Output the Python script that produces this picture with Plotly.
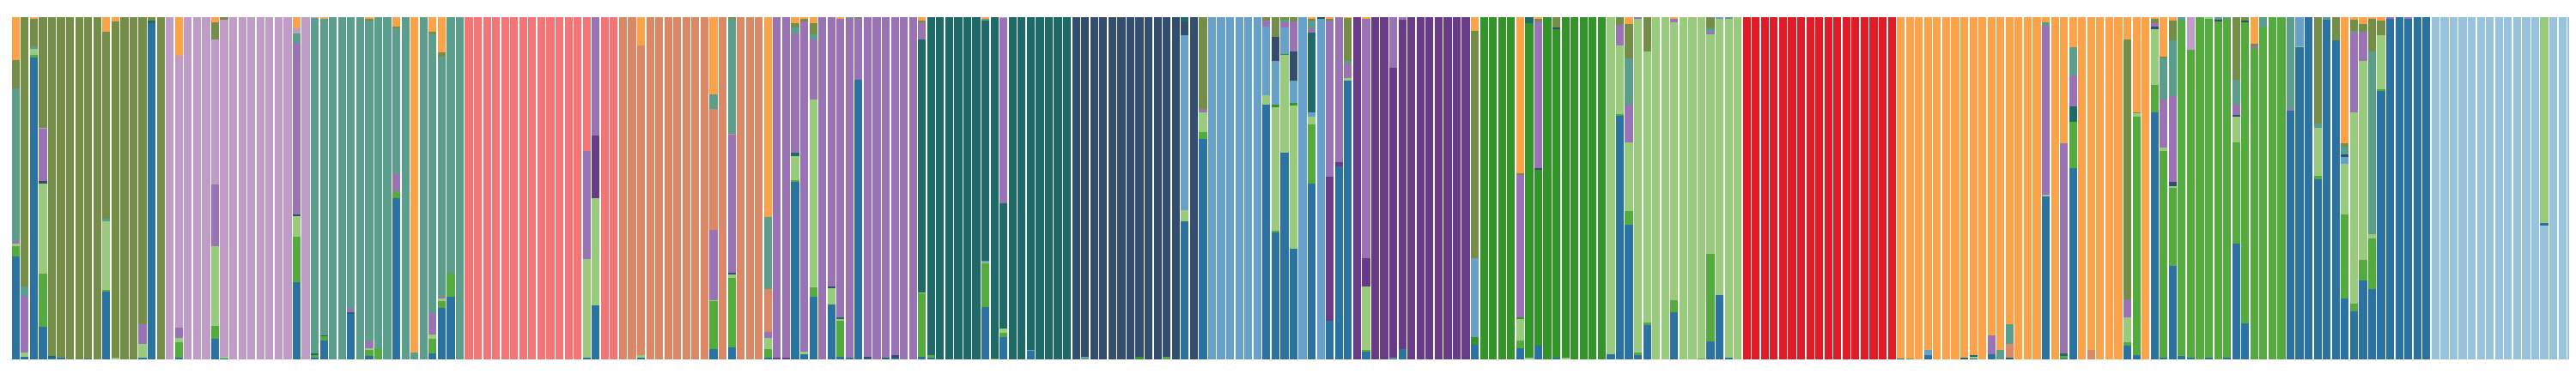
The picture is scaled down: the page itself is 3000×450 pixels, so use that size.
import plotly.graph_objects as go

# cluster order (bottom -> top) and colours
clusters = ["PB", "SB", "MG", "LG", "FG", "LS", "NV", "DT", "DP", "PU", "SA", "TC", "RD", "SG", "LI", "OL", "OR"]
colors = {
    "PB": "#97c3dc", "SB": "#2a72a0", "MG": "#52ab3c", "LG": "#98cc7c", "FG": "#339429",
    "LS": "#66a1ca", "NV": "#324d6d", "DT": "#1e6a69", "DP": "#673b87", "PU": "#9a73b5",
    "SA": "#f47575", "TC": "#da8866", "RD": "#de1b27", "SG": "#5b9e8c", "LI": "#bf9dc6",
    "OL": "#748d47", "OR": "#fba349",
}

pop1 = [
    {"OR": .125, "OL": .083, "SG": .444, "PU": .008, "LG": .009, "MG": .028, "SB": .301},
    {"OL": .787, "SG": .028, "PU": .165, "LG": .012, "SB": .008},
    {"OR": .003, "OL": .082, "SG": .008, "LG": .018, "MG": .008, "SB": .881},
    {"OL": .323, "LI": .002, "PU": .153, "NV": .008, "LG": .263, "MG": .155, "SB": .096},
    {"OL": .99, "DT": .004, "SB": .006},
    {"OL": .995, "SB": .005},
    {"OL": 1}, {"OL": 1},
    {"OL": .997, "SB": .003},
    {"OL": 1},
    {"OR": .042, "OL": .547, "SG": .007, "LG": .202, "MG": .003, "SB": .2},
    {"OR": .013, "OL": .982, "LG": .005},
    {"OL": 1}, {"OL": 1},
    {"OL": .896, "PU": .06, "LG": .038, "SB": .006},
    {"OL": .01, "DT": .007, "SB": .983},
    {"OL": 1},
]
pop2 = [
    {"LI": 1},
    {"OR": .113, "LI": .794, "PU": .03, "LG": .013, "MG": .046, "SB": .004},
    {"LI": 1}, {"LI": 1}, {"LI": 1},
    {"OR": .014, "OL": .051, "LI": .424, "PU": .18, "LG": .234, "MG": .038, "SB": .06},
    {"OL": .008, "LI": .985, "LG": .004, "SB": .003},
    {"LI": 1}, {"LI": 1}, {"LI": 1}, {"LI": 1}, {"LI": 1}, {"LI": 1}, {"LI": 1},
    {"OR": .033, "LI": .014, "SG": .029, "PU": .501, "NV": .003, "LG": .062, "MG": .131, "SB": .226},
    {"LI": 1},
]
pop3 = [
    {"LI": .002, "SG": .98, "MG": .01, "DT": .004, "SB": .004},
    {"OR": .004, "SG": .925, "DT": .003, "MG": .014, "SB": .054},
    {"SG": 1}, {"SG": 1},
    {"SG": .849, "PU": .013, "DT": .004, "SB": .134},
    {"SG": .997, "MG": .003},
    {"OR": .004, "OL": .004, "SG": .94, "PU": .019, "LG": .004, "MG": .018, "SB": .011},
    {"SG": .967, "MG": .033},
    {"SG": 1},
    {"OR": .027, "OL": .005, "SG": .424, "PU": .054, "MG": .018, "SB": .472},
    {"SG": 1},
    {"OR": .979, "SG": .021},
    {"SG": 1},
    {"OR": .042, "OL": .008, "SG": .815, "PU": .063, "LG": .011, "MG": .043, "SB": .018},
    {"OR": .103, "OL": .012, "SG": .701, "PU": .007, "LG": .007, "MG": .02, "SB": .15},
    {"SG": .75, "MG": .066, "SB": .184},
    {"SG": 1},
]
pop4 = [
    {"SA": 1}, {"SA": 1}, {"SA": 1}, {"SA": 1}, {"SA": 1}, {"SA": 1}, {"SA": 1},
    {"SA": 1}, {"SA": 1}, {"SA": 1}, {"SA": 1}, {"SA": 1}, {"SA": 1},
    {"SA": .391, "PU": .317, "LG": .288, "SB": .004},
    {"PU": .345, "DP": .184, "LG": .313, "SB": .158},
    {"SA": 1}, {"SA": 1},
]
pop5 = [
    {"TC": 1}, {"TC": 1},
    {"OR": .082, "TC": .906, "LG": .008, "SB": .004},
    {"TC": 1}, {"TC": 1}, {"TC": 1}, {"TC": 1}, {"TC": 1}, {"TC": 1}, {"TC": 1},
    {"OR": .226, "SG": .042, "TC": .353, "PU": .205, "LG": .002, "MG": .142, "SB": .03},
    {"TC": 1},
    {"OL": .004, "SG": .336, "TC": .003, "PU": .404, "NV": .003, "LG": .012, "MG": .203, "SB": .035},
    {"TC": 1}, {"TC": 1}, {"TC": 1},
    {"OR": .585, "SG": .209, "TC": .125, "PU": .018, "LG": .034, "MG": .025, "SB": .004},
]
pop6 = [
    {"PU": .995, "DP": .005},
    {"PU": .995, "DP": .005},
    {"OR": .017, "OL": .013, "SG": .018, "PU": .348, "DT": .01, "LG": .071, "MG": .005, "SB": .518},
    {"OR": .004, "OL": .008, "PU": .965, "LG": .007, "SB": .016},
    {"OR": .017, "OL": .033, "SG": .014, "PU": .176, "LG": .549, "MG": .028, "SB": .183},
    {"PU": 1},
    {"PU": .787, "NV": .003, "LG": .05, "SB": .16},
    {"OR": .003, "PU": .874, "DT": .005, "LG": .005, "MG": .105, "SB": .008},
    {"SG": .002, "PU": .992, "SB": .006},
    {"OL": .002, "PU": .18, "SB": .818},
    {"PU": .992, "NV": .005, "SB": .003},
    {"PU": 1},
    {"PU": .995, "DT": .005},
    {"PU": .988, "NV": .008, "SB": .004},
    {"PU": 1}, {"PU": 1},
]
pop7 = [
    {"OR": .011, "OL": .003, "PU": .051, "DT": .739, "LG": .003, "MG": .185, "SB": .008},
    {"DT": .987, "MG": .007, "SB": .006},
    {"DT": 1}, {"DT": 1}, {"DT": 1}, {"DT": 1}, {"DT": 1},
    {"OR": .005, "SG": .003, "LS": .004, "DT": .704, "LG": .003, "MG": .128, "SB": .154},
    {"DT": .997, "MG": .003},
    {"LI": .002, "PU": .542, "DT": .367, "LG": .013, "MG": .013, "SB": .064},
    {"DT": 1}, {"DT": 1},
    {"DT": .972, "LS": .001, "SB": .027},
    {"DT": 1}, {"DT": 1}, {"DT": 1}, {"DT": 1},
]
pop8 = [
    {"NV": 1},
    {"NV": .992, "LS": .005, "MG": .003},
    {"NV": 1}, {"NV": 1}, {"NV": 1}, {"NV": 1}, {"NV": 1},
    {"NV": .992, "FG": .008},
    {"NV": 1}, {"NV": 1},
    {"NV": .992, "MG": .008},
    {"NV": 1},
    {"DT": .013, "NV": .04, "LS": .511, "LG": .032, "SB": .404},
    {"NV": 1},
]
pop9 = [
    {"OL": .267, "PU": .01, "LG": .058, "MG": .022, "SB": .643},
    {"LS": 1}, {"LS": 1}, {"LS": 1}, {"LS": 1}, {"LS": 1}, {"LS": 1},
    {"OL": .01, "PU": .017, "LS": .201, "LG": .027, "SB": .745},
    {"OL": .057, "NV": .07, "LS": .128, "FG": .008, "LG": .36, "MG": .006, "SB": .371},
    {"OL": .008, "SG": .008, "PU": .013, "LS": .078, "FG": .003, "LG": .285, "SB": .605},
    {"OL": .013, "PU": .088, "NV": .084, "LS": .065, "FG": .007, "LG": .419, "SB": .324},
    {"LS": 1},
    {"OR": .003, "OL": .005, "SG": .025, "PU": .011, "DT": .233, "LS": .013, "LG": .024, "MG": .171, "SB": .515},
    {"NV": .005, "LS": .995},
]
pop10 = [
    {"OR": .003, "OL": .007, "PU": .456, "DP": .421, "SB": .113},
    {"PU": .423, "DP": .012, "SB": .565},
    {"OR": .002, "OL": .127, "SG": .007, "PU": .042, "LG": .007, "SB": .815},
    {"DP": 1},
    {"OR": .004, "PU": .7, "DP": .083, "LG": .185, "MG": .004, "SB": .024},
    {"DP": 1}, {"DP": 1},
    {"PU": .148, "DP": .846, "LS": .003, "SB": .003},
    {"PU": .008, "DP": .961, "SB": .031},
    {"DP": 1}, {"DP": 1}, {"DP": 1}, {"DP": 1}, {"DP": 1}, {"DP": 1}, {"DP": 1},
]
pop11 = [
    {"OR": .04, "OL": .664, "LS": .231, "FG": .023, "SB": .042},
    {"FG": 1}, {"FG": 1}, {"FG": 1}, {"FG": 1},
    {"OR": .455, "OL": .006, "PU": .416, "FG": .003, "LG": .064, "MG": .023, "SB": .033},
    {"DT": .017, "FG": .979, "LG": .004},
    {"OR": .003, "OL": .01, "PU": .428, "NV": .004, "FG": .516, "SB": .039},
    {"FG": 1},
    {"OL": .031, "NV": .003, "FG": .962, "SB": .004},
    {"FG": .996, "LG": .004},
    {"FG": 1}, {"FG": 1}, {"FG": 1}, {"FG": 1},
]
pop12 = [
    {"LG": .984, "SB": .016},
    {"OL": .023, "PU": .059, "LG": .202, "MG": .003, "SB": .713},
    {"OR": .021, "OL": .1, "SG": .134, "PU": .11, "LG": .201, "MG": .04, "SB": .394},
    {"PU": .005, "LG": .974, "MG": .008, "SB": .013},
    {"OL": .1, "LG": .792, "MG": .008, "SB": .1},
    {"LG": 1}, {"LG": 1},
    {"OR": .004, "PU": .01, "LG": .813, "MG": .035, "SB": .138},
    {"LG": 1}, {"LG": 1},
    {"LG": .997, "MG": .003},
    {"OL": .033, "SG": .01, "PU": .008, "LG": .641, "MG": .255, "SB": .053},
    {"LS": .003, "LG": .81, "SB": .187},
    {"SG": .005, "LG": .991, "SB": .004},
    {"LG": 1},
]
pop13 = [{"RD": 1}] * 17
pop14 = [
    {"OR": .997, "SB": .003},
    {"OR": .997, "MG": .003},
    {"OR": 1},
    {"OR": .973, "LS": .014, "SB": .013},
    {"OR": 1}, {"OR": 1}, {"OR": 1},
    {"OR": .994, "DT": .006},
    {"OR": .988, "LG": .004, "DT": .005, "SB": .003},
    {"OR": 1},
    {"OR": .929, "PU": .057, "SB": .014},
    {"OR": .972, "SG": .028},
    {"OR": .898, "SG": .058, "TC": .038, "DT": .006},
    {"OR": 1}, {"OR": 1}, {"OR": 1},
    {"OR": .014, "SG": .011, "PU": .493, "LG": .004, "SB": .478},
    {"OR": 1},
    {"OR": .368, "PU": .614, "DT": .007, "MG": .008, "SB": .003},
    {"OR": .088, "SG": .082, "PU": .091, "DT": .046, "MG": .135, "SB": .558},
    {"OR": 1},
    {"OR": .973, "TC": .027},
    {"OR": 1}, {"OR": 1}, {"OR": 1},
    {"OR": .065, "OL": .76, "PU": .052, "LG": .073, "MG": .009, "SB": .041},
    {"OR": .277, "OL": .003, "LG": .01, "MG": .697, "SB": .013},
    {"OR": 1},
]
pop15 = [
    {"OR": .005, "OL": .012, "PU": .01, "NV": .008, "LG": .163, "MG": .079, "SB": .723},
    {"OR": .115, "OL": .006, "SG": .119, "PU": .14, "LG": .011, "MG": .603, "SB": .006},
    {"OR": .01, "OL": .058, "SG": .162, "PU": .251, "NV": .013, "LG": .004, "MG": .229, "SB": .273},
    {"SG": .01, "MG": .98, "SB": .01},
    {"LI": .096, "MG": .9, "SB": .004},
    {"MG": 1},
    {"LG": .003, "MG": .991, "SB": .006},
    {"SG": .008, "NV": .004, "MG": .988},
    {"SG": .005, "MG": .99, "SB": .005},
    {"OL": .182, "SG": .073, "PU": .031, "NV": .005, "LG": .074, "MG": .297, "SB": .338},
    {"OL": .01, "NV": .003, "MG": .881, "SB": .104},
    {"OR": .078, "OL": .006, "PU": .004, "MG": .912},
    {"SG": .029, "MG": .971},
    {"MG": 1}, {"MG": 1},
]
pop16 = [
    {"SG": .267, "PU": .007, "SB": .726},
    {"LS": .084, "LG": .002, "SB": .914},
    {"SB": 1},
    {"OL": .311, "SG": .013, "LG": .14, "MG": .01, "SB": .526},
    {"SG": .008, "SB": .992},
    {"OL": .067, "SB": .933},
    {"OR": .37, "OL": .01, "SG": .021, "NV": .007, "LS": .02, "LG": .149, "MG": .245, "SB": .179},
    {"OR": .007, "OL": .033, "SG": .004, "PU": .233, "LG": .56, "MG": .022, "SB": .141},
    {"OR": .019, "OL": .024, "PU": .084, "LG": .581, "MG": .06, "SB": .231},
    {"OR": .005, "OL": .094, "SG": .536, "LG": .011, "MG": .148, "SB": .206},
    {"OR": .01, "OL": .042, "LG": .159, "MG": .003, "SB": .786},
    {"PU": .003, "SB": .997},
    {"SB": 1},
    {"PU": .003, "SB": .997},
    {"SB": 1}, {"SB": 1},
]
pop17 = [
    {"PB": 1}, {"PB": 1}, {"PB": 1}, {"PB": 1}, {"PB": 1}, {"PB": 1},
    {"PB": 1}, {"PB": 1}, {"PB": 1}, {"PB": 1}, {"PB": 1}, {"PB": 1},
    {"PB": .392, "SB": .007, "LG": .601},
    {"PB": 1}, {"PB": 1}, {"PB": 1},
]

bars = (pop1 + pop2 + pop3 + pop4 + pop5 + pop6 + pop7 + pop8 + pop9 + pop10
        + pop11 + pop12 + pop13 + pop14 + pop15 + pop16 + pop17)
n = len(bars)
xs = list(range(n))

fig = go.Figure()
for c in clusters:
    ys = []
    for b in bars:
        tot = sum(b.values())
        ys.append(b.get(c, 0) / tot)
    fig.add_trace(go.Bar(x=xs, y=ys, name=c, marker=dict(color=colors[c], line=dict(width=0)),
                         showlegend=False))

fig.update_layout(
    barmode="stack", bargap=0.13,
    width=2992, height=442,
    margin=dict(l=5, r=0, t=12, b=31),
    paper_bgcolor="white", plot_bgcolor="white",
    xaxis=dict(visible=False, range=[-0.5, n - 0.5]),
    yaxis=dict(visible=False, range=[0, 1]),
)
fig.write_html("out.html")
